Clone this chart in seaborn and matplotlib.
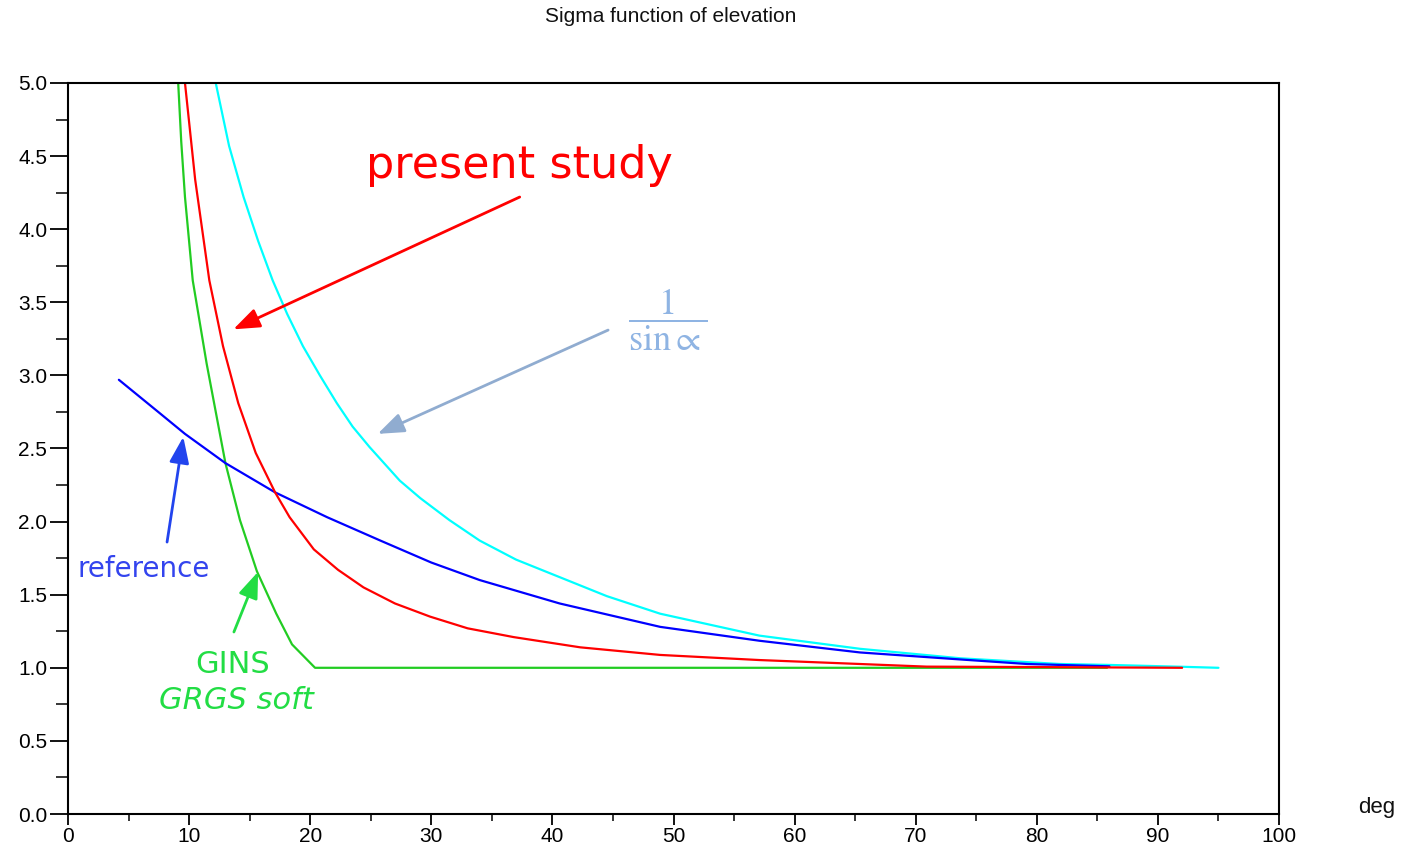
import matplotlib
matplotlib.use("Agg")
import matplotlib.pyplot as plt
from matplotlib.ticker import MultipleLocator
import seaborn as sns
import pandas as pd

# ---- data ----
x_cyan = [12.2, 13.3, 14.5, 15.7, 16.9, 18.1, 19.4, 20.8, 22.2, 23.5, 24.9, 27.4, 29.1,
          31.5, 34.0, 37.0, 40.6, 44.5, 48.9, 57.1, 65.4, 73.7, 81.9, 85.8, 92.0, 95.0]
y_cyan = [5.0, 4.57, 4.22, 3.92, 3.65, 3.42, 3.20, 3.0, 2.81, 2.65, 2.51, 2.28, 2.16,
          2.01, 1.87, 1.74, 1.62, 1.49, 1.37, 1.22, 1.13, 1.065, 1.026, 1.02, 1.007, 1.0]

x_green = [9.1, 9.35, 9.66, 10.3, 11.45, 13.0, 14.2, 15.6, 17.2, 18.5, 20.4, 85.8]
y_green = [5.0, 4.6, 4.22, 3.65, 3.08, 2.40, 2.01, 1.66, 1.37, 1.16, 1.0, 1.0]

x_blue = [4.2, 7.6, 9.66, 13.0, 17.1, 21.4, 25.8, 30.0, 34.0, 40.6, 48.9, 57.1,
          65.4, 73.7, 79.2, 86.0]
y_blue = [2.97, 2.74, 2.60, 2.40, 2.20, 2.03, 1.87, 1.72, 1.60, 1.44, 1.28, 1.185,
          1.105, 1.057, 1.026, 1.01]

x_red = [9.66, 10.5, 11.67, 12.8, 14.06, 15.5, 17.1, 18.3, 20.3, 22.3, 24.4, 27.0,
         29.9, 33.0, 36.8, 42.3, 48.9, 57.1, 65.4, 70.9, 80.0, 92.0]
y_red = [5.0, 4.34, 3.65, 3.20, 2.81, 2.47, 2.20, 2.03, 1.81, 1.67, 1.55, 1.44,
         1.35, 1.27, 1.21, 1.14, 1.088, 1.053, 1.026, 1.008, 1.005, 1.0]

series_names = ["1/sin", "GINS", "reference", "present study"]
series_colors = ["#00ffff", "#22cc22", "#0000ff", "#ff0000"]

x_ticks = list(range(0, 101, 10))
y_ticks = [0.0, 0.5, 1.0, 1.5, 2.0, 2.5, 3.0, 3.5, 4.0, 4.5, 5.0]

df = pd.concat([
    pd.DataFrame({"deg": xs, "sigma": ys, "series": name})
    for name, xs, ys in zip(series_names,
                            [x_cyan, x_green, x_blue, x_red],
                            [y_cyan, y_green, y_blue, y_red])
], ignore_index=True)

sns.set_style("ticks")
plt.rcParams["font.family"] = ["Liberation Sans", "DejaVu Sans"]
plt.rcParams["mathtext.fontset"] = "stix"

W, H = 1403, 850
fig = plt.figure(figsize=(W / 100, H / 100), dpi=100)
ax = fig.add_axes([68 / W, (H - 814) / H, (1279 - 68) / W, (814 - 83) / H])

sns.lineplot(data=df, x="deg", y="sigma", hue="series", hue_order=series_names,
             palette=series_colors, estimator=None, sort=False, linewidth=1.6,
             legend=False, ax=ax)

ax.set_xlim(0, 100)
ax.set_ylim(0, 5)
ax.set_xticks(x_ticks)
ax.set_xticklabels([str(v) for v in x_ticks], fontsize=15)
ax.set_yticks(y_ticks)
ax.set_yticklabels([f"{v:.1f}" for v in y_ticks], fontsize=15)
ax.xaxis.set_minor_locator(MultipleLocator(5))
ax.yaxis.set_minor_locator(MultipleLocator(0.25))
ax.tick_params(axis="y", which="major", length=13, width=1.3, pad=2, colors="black")
ax.tick_params(axis="y", which="minor", length=9, width=1.3)
ax.tick_params(axis="x", which="major", length=8, width=1.3, pad=1.5, colors="black")
ax.tick_params(axis="x", which="minor", length=5, width=1.3)
ax.set_xlabel("")
ax.set_ylabel("")
for sp in ax.spines.values():
    sp.set_visible(True)
    sp.set_linewidth(1.5)
    sp.set_color("black")

fig.text(671 / W, 1 - 17 / H, "Sigma function of elevation", ha="center", va="center",
         fontsize=15, color="#111111")
fig.text(1377 / W, 1 - 808 / H, "deg", ha="center", va="center", fontsize=16,
         color="#111111")

def arrow(tail, tip, color):
    ax.annotate("", xy=tip, xytext=tail,
                arrowprops=dict(arrowstyle="-|>,head_length=0.8,head_width=0.3",
                                color=color, lw=2, mutation_scale=20,
                                shrinkA=0, shrinkB=0))

# annotations
ax.text(37.3, 4.35, "present study", color="#ff0000", fontsize=32, ha="center",
        va="baseline", family="DejaVu Sans")
arrow((37.3, 4.22), (13.65, 3.315), "#ff0000")

ax.text(49.5, 3.38, r"$\dfrac{1}{\mathrm{sin}\propto}$", color="#8fb4e3", fontsize=26,
        ha="center", va="center")
arrow((44.6, 3.31), (25.57, 2.60), "#90acd0")

ax.text(6.23, 1.62, "reference", color="#3344ee", fontsize=20, ha="center",
        va="baseline", family="DejaVu Sans")
arrow((8.18, 1.86), (9.52, 2.58), "#2244ee")

ax.text(13.6, 0.964, "GINS", color="#22dd44", fontsize=22, ha="center",
        va="baseline", family="DejaVu Sans")
ax.text(13.9, 0.718, "GRGS soft", color="#22dd44", fontsize=22, ha="center",
        va="baseline", style="italic", family="DejaVu Sans")
arrow((13.7, 1.245), (15.7, 1.657), "#22dd44")

fig.savefig("out.png", dpi=100)
